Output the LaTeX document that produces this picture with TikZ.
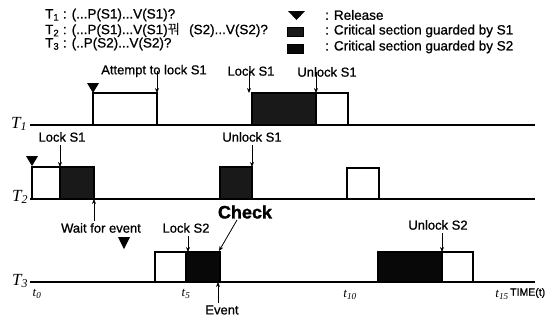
\documentclass[tikz,border=0pt]{standalone}
\usepackage{fontspec}
\setmainfont[FakeBold=0.8]{Liberation Sans}
\newfontfamily\boldsans[FakeBold=1.5]{Liberation Sans}
\newfontfamily\serifit{Liberation Serif}
\newfontfamily\krfont{Noto Sans CJK KR}
\usetikzlibrary{arrows.meta}
\begin{document}
\begin{tikzpicture}[x=1pt,y=-1pt,
 lbl/.style={font=\fontsize{13}{15}\selectfont, inner sep=0pt},
 hdr/.style={font=\fontsize{13.5}{15}\selectfont, inner sep=0pt, anchor=west},
 chk/.style={font=\fontsize{18}{20}\selectfont\boldsans\bfseries, inner sep=0pt},
 tl/.style={font=\fontsize{17}{18}\selectfont\serifit\itshape, inner sep=0pt},
 tt/.style={font=\fontsize{13}{14}\selectfont\serifit\itshape, inner sep=0pt},
 timel/.style={font=\fontsize{10.5}{12}\selectfont, inner sep=0pt},
 arr/.style={-{Stealth[length=5pt,width=4pt]}, line width=0.8pt},
 box/.style={draw, line width=1.3pt},
 sone/.style={box, fill=black!90},
 stwo/.style={box, fill=black!97},
 axis/.style={line width=1.2pt},
 rel/.style={fill=black, draw=none}]
\useasboundingbox (0,0) rectangle (558,324);

% header
\node[hdr] (h1) at (45,15) {T\textsubscript{1} : (...P(S1)...V(S1)?};
\node[hdr] (h2) at (45,30) {T\textsubscript{2} : (...P(S1)...V(S1){\krfont 꿔}\hspace{9pt}(S2)...V(S2)?};
\node[hdr] (h3) at (45,44) {T\textsubscript{3} : (..P(S2)...V(S2)?};

% legend
\fill[rel] (288,11) -- (305,11) -- (296.5,20) -- cycle;
\node[hdr] (lg1) at (325,15) {: Release};
\path[sone, line width=0.5pt] (287,27) rectangle (303,36);
\node[hdr] (lg2) at (325,31) {: Critical section guarded by S1};
\path[stwo, line width=0.5pt] (287,44) rectangle (303,53);
\node[hdr] (lg3) at (325,47) {: Critical section guarded by S2};

% T1
\node[tl] (T1) at (19,124) {T\textsubscript{1}};
\draw[axis] (30,125) -- (535,125);
\path[box] (93,93) rectangle (157,125);
\path[sone] (252,93) rectangle (316,125);
\path[box] (316,93) rectangle (348,125);
\fill[rel] (87,83) -- (99,83) -- (93,93) -- cycle;
\coordinate (a1) at (157,93);
\coordinate (a2) at (249,93);
\coordinate (a3) at (316,93);
\node[lbl] (att) at (154,71) {Attempt to lock S1};
\node[lbl] (lk1) at (251,71) {Lock S1};
\node[lbl] (ul1) at (327,72) {Unlock S1};
\draw[arr] (a1 |- att) -- (a1);
\draw[arr] (a2 |- lk1) -- (a2);
\draw[arr] (a3 |- ul1) -- (a3);

% T2
\node[tl] (T2) at (20,197) {T\textsubscript{2}};
\draw[axis] (30,199) -- (535,199);
\path[box] (32,167) rectangle (60,199);
\path[sone] (60,167) rectangle (94,199);
\path[sone] (220,167) rectangle (252,199);
\path[box] (347,168) rectangle (379,199);
\fill[rel] (26,156) -- (38,156) -- (32,166) -- cycle;
\node[lbl] (lk2) at (62,137) {Lock S1};
\node[lbl] (ul2) at (252,137) {Unlock S1};
\coordinate (b1) at (60,167);
\coordinate (b2) at (252,167);
\draw[arr] (b1 |- 0,145) -- (b1);
\draw[arr] (b2 |- 0,145) -- (b2);
\node[lbl] (wfe) at (101,228) {Wait for event};
\coordinate (b3) at (94,199);
\draw[arr] (b3 |- wfe.north) ++(0,-2) -- (b3);

% T3
\node[tl] (T3) at (20,281) {T\textsubscript{3}};
\draw[axis] (30,282) -- (535,282);
\path[box] (155,252) rectangle (186,282);
\path[stwo] (186,252) rectangle (220,282);
\path[stwo] (378,252) rectangle (442,282);
\path[box] (442,252) rectangle (473,282);
\fill[rel] (118,237) -- (130,237) -- (124,249) -- cycle;
\node[chk] (chk) at (245,212) {Check};
\node[lbl] (lk3) at (186,228) {Lock S2};
\node[lbl] (ul3) at (438,225) {Unlock S2};
\node[lbl] (evt) at (222,310) {Event};
\coordinate (c1) at (188,252);
\coordinate (c2) at (219,251);
\coordinate (c3) at (442,252);
\coordinate (c4) at (218,282);
\draw[arr] (c1 |- 0,236) -- (c1);
\draw[arr] (237,220) -- (c2);
\draw[arr] (c3 |- 0,233) -- (c3);
\draw[arr] (c4 |- evt.north) ++(0,-2) -- (c4);

% time labels
\node[tt] (t0) at (37,294) {t\textsubscript{0}};
\node[tt] (t5) at (186,294) {t\textsubscript{5}};
\node[tt] (t10) at (350,295) {t\textsubscript{10}};
\node[tt] (t15) at (502,295) {t\textsubscript{15}};
\node[timel, anchor=west] (time) at (510,293) {TIME(t)};
\end{tikzpicture}
\end{document}
